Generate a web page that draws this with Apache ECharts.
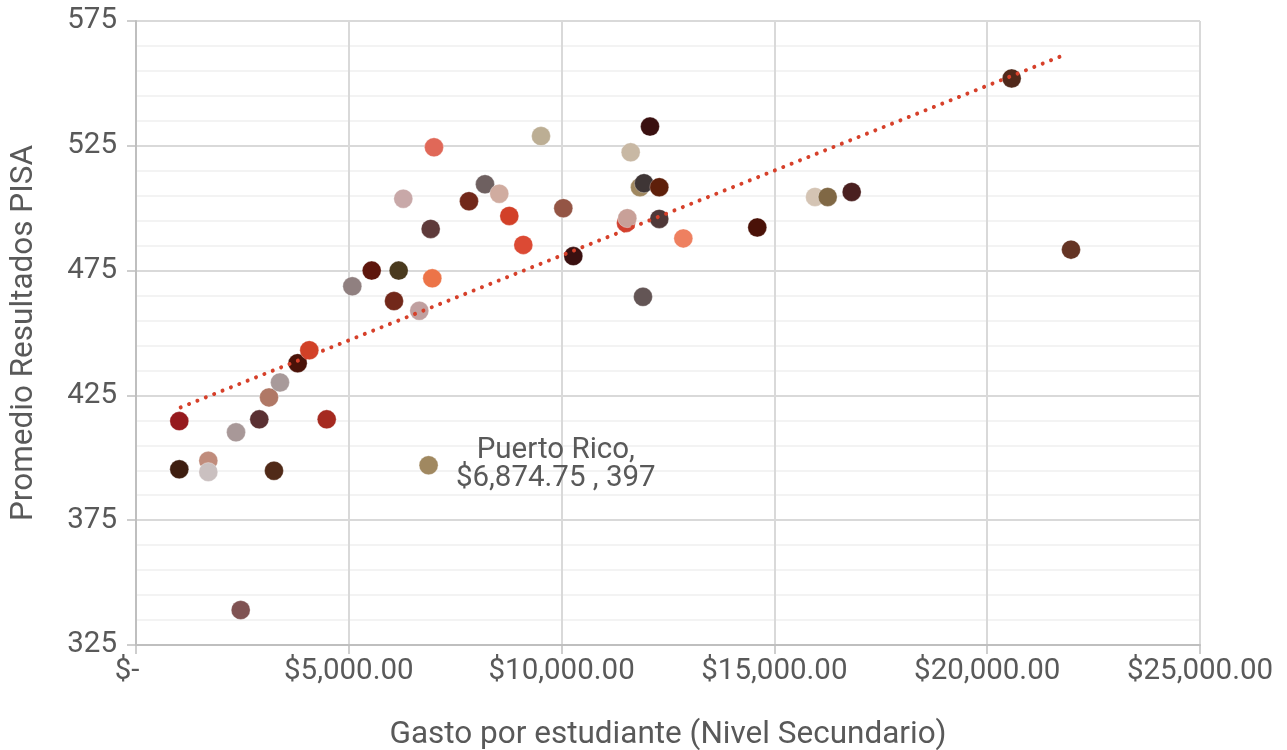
<!DOCTYPE html>
<html>
<head>
<meta charset="utf-8">
<script src="https://cdn.jsdelivr.net/npm/echarts@6/dist/echarts.min.js"></script>
<style>
html,body{margin:0;padding:0;background:#fff;overflow:hidden;}
#chart{width:1287px;height:750px;}
</style>
</head>
<body>
<div id="chart"></div>
<script>
// Gasto por estudiante (USD) and PISA average score
const spending = [1017, 1017, 1699, 1699, 2350, 2460, 2897, 3125, 3242, 3383, 3799, 4072, 4481, 5082, 5538, 6172, 6062, 6280, 6656, 6874.75, 6924, 6962, 7002, 7824, 8200, 8536, 8771, 9100, 9516, 10040, 10275, 11513, 11544, 11623, 11842, 11936, 11912, 12077, 12295, 12295, 12860, 14598, 15954, 16252, 16816, 20575, 21969];
const scores   = [414.7, 395.4, 398.8, 394.3, 410.2, 339.0, 415.4, 424.2, 394.8, 430.2, 437.9, 443.1, 415.4, 468.7, 475.0, 475.0, 462.8, 503.8, 458.9, 397, 491.7, 471.9, 524.4, 502.8, 509.6, 505.8, 496.9, 485.3, 528.9, 500.0, 480.8, 494.1, 496.0, 522.4, 508.4, 510.0, 464.5, 532.7, 508.4, 495.7, 487.9, 492.3, 504.5, 504.5, 506.5, 552.0, 483.4];
const palette  = ['#961a1e', '#3e1e10', '#c08c7c', '#cac0c0', '#a89898', '#7f5252', '#5a3032', '#b07866', '#502a18', '#a89a9a', '#4a1208', '#d14127', '#a52a20', '#908080', '#5e160c', '#4a3a1e', '#72281a', '#c8a8a8', '#c0a0a0', '#a08860', '#5e3a3a', '#ec7448', '#e06858', '#72281a', '#6e6060', '#d0aca0', '#d24028', '#dc4a34', '#bcae94', '#945545', '#3a1010', '#d04030', '#c8a098', '#c8b8a4', '#a08860', '#3e3535', '#635555', '#3a1010', '#5e1f0a', '#4f3838', '#ee8060', '#4a1208', '#d4c4b4', '#806845', '#4a2020', '#50281a', '#643424'];
const labelIndex = 19; // Puerto Rico
const labelName = 'Puerto Rico';
// Trendline endpoints (linear)
const trendX = [1050, 21797];
const trendY = [420.2, 561.3];
const xTicks = [0, 5000, 10000, 15000, 20000, 25000];

const txt = '#595959';
const font = 'Roboto';

const points = spending.map((x, i) => {
  const item = { value: [x, scores[i]], itemStyle: { color: palette[i] } };
  if (i === labelIndex) {
    item.label = {
      show: true,
      formatter: labelName + ',\n$' + x.toLocaleString('en-US', {minimumFractionDigits: 2, maximumFractionDigits: 2}) + ' , ' + scores[i],
      position: [137, 9],
      align: 'center',
      verticalAlign: 'middle',
      color: txt,
      fontFamily: font,
      fontSize: 29.5,
      lineHeight: 28
    };
  }
  return item;
});

const chart = echarts.init(document.getElementById('chart'), null, {renderer: 'canvas'});
chart.setOption({
  animation: false,
  backgroundColor: '#fff',
  grid: { left: 136, right: 87, top: 21, bottom: 105, containLabel: false, outerBoundsMode: 'none' },
  xAxis: {
    type: 'value',
    min: xTicks[0], max: xTicks[xTicks.length - 1], interval: 5000,
    name: 'Gasto por estudiante (Nivel Secundario)',
    nameLocation: 'middle', nameGap: 74,
    nameTextStyle: { color: txt, fontFamily: font, fontSize: 31.5 },
    axisLine: { show: true, lineStyle: { color: '#bfbfbf', width: 2 } },
    axisTick: { show: true, length: 9, lineStyle: { color: '#bfbfbf', width: 1.5 } },
    axisLabel: {
      color: txt, fontFamily: font, fontSize: 29.5, margin: 12,
      formatter: v => v === 0 ? '{z|$-}' : '$' + v.toLocaleString('en-US', {minimumFractionDigits: 2, maximumFractionDigits: 2}),
      rich: { z: { color: txt, fontFamily: font, fontSize: 29.5, padding: [0, 18, 0, 0] } }
    },
    splitLine: { show: true, lineStyle: { color: '#d9d9d9', width: 2 } }
  },
  yAxis: {
    type: 'value',
    min: 325, max: 575, interval: 50,
    name: 'Promedio Resultados PISA',
    nameLocation: 'middle', nameGap: 96,
    nameTextStyle: { color: txt, fontFamily: font, fontSize: 31.5 },
    axisLine: { show: true, lineStyle: { color: '#bfbfbf', width: 2 } },
    axisTick: { show: true, length: 9, lineStyle: { color: '#bfbfbf', width: 1.5 } },
    axisLabel: { color: txt, fontFamily: font, fontSize: 29.5, margin: 19 },
    splitLine: { show: true, lineStyle: { color: '#d9d9d9', width: 2 } },
    minorTick: { show: false, splitNumber: 5 },
    minorSplitLine: { show: true, lineStyle: { color: '#f0f0f0', width: 1.5 } }
  },
  series: [
    {
      type: 'scatter',
      symbol: 'circle',
      symbolSize: 19,
      data: points,
      itemStyle: { opacity: 1, borderColor: 'rgba(255,255,255,0.5)', borderWidth: 0.6 },
      z: 2
    },
    {
      type: 'line',
      data: trendX.map((x, i) => [x, trendY[i]]),
      showSymbol: false,
      symbol: 'none',
      lineStyle: { color: '#d6402a', width: 4, type: [0.01, 9], cap: 'round' },
      z: 3
    }
  ]
});
</script>
</body>
</html>
